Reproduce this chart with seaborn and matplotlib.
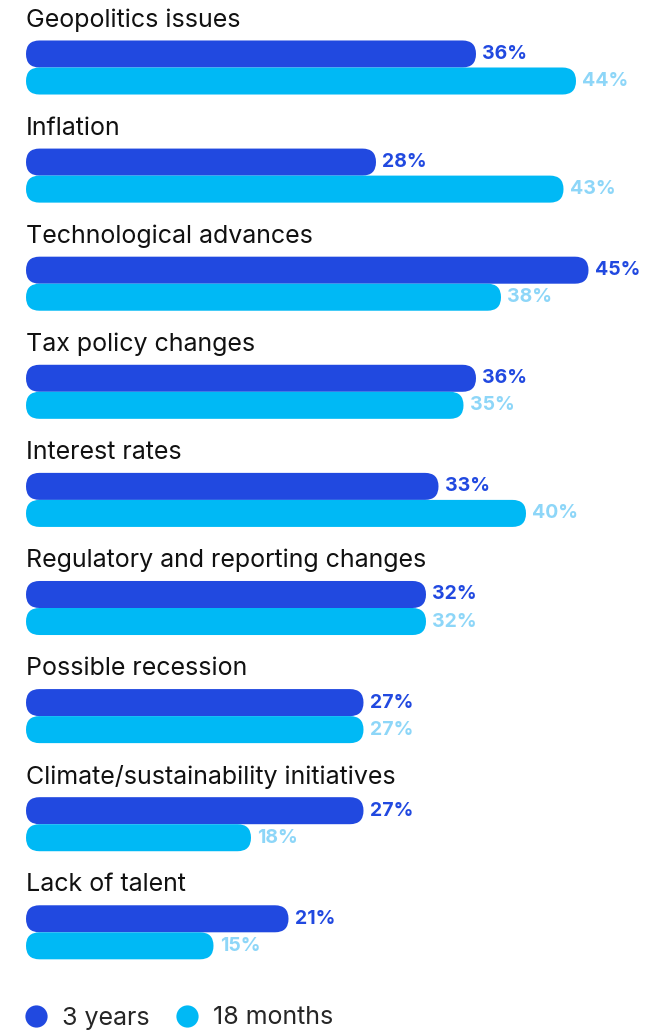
import matplotlib
matplotlib.use("Agg")
import matplotlib.pyplot as plt
from matplotlib.patches import FancyBboxPatch
from matplotlib.lines import Line2D
import seaborn as sns
import pandas as pd

categories = [
    "Geopolitics issues",
    "Inflation",
    "Technological advances",
    "Tax policy changes",
    "Interest rates",
    "Regulatory and reporting changes",
    "Possible recession",
    "Climate/sustainability initiatives",
    "Lack of talent",
]
three_years = [36, 28, 45, 36, 33, 32, 27, 27, 21]
eighteen_months = [44, 43, 38, 35, 40, 32, 27, 18, 15]
series_names = ["3 years", "18 months"]

DARK = "#2149E0"
LIGHT = "#00B9F5"
LIGHT_TXT = "#8DD6F8"

df = pd.DataFrame({
    "category": categories * 2,
    "value": three_years + eighteen_months,
    "period": [series_names[0]] * len(categories) + [series_names[1]] * len(categories),
})

sns.set_theme(style="white")
plt.rcParams["font.family"] = ["Inter", "DejaVu Sans"]

W, H = 658, 1031
fig = plt.figure(figsize=(W / 100, H / 100), dpi=100)
ax = fig.add_axes([0, 0, 1, 1])

sns.barplot(data=df, x="value", y="category", hue="period", orient="h",
            order=categories, hue_order=series_names,
            palette=[DARK, LIGHT], width=0.5, legend=False, ax=ax,
            saturation=1, errorbar=None)

# pixel geometry
x0_px, px_per_x = 26, 12.5
c0_px, px_per_y = 67.5, 108.1
ax.set_xlim(-x0_px / px_per_x, (W - x0_px) / px_per_x)
ax.set_ylim((H - c0_px) / px_per_y, -c0_px / px_per_y)
ax.axis("off")

xu = 1 / px_per_x
yu = 1 / px_per_y
aspect = yu / xu

dark_rgba = matplotlib.colors.to_rgba(DARK)
patches = list(ax.patches)
for p in patches:
    x, y = p.get_x(), p.get_y()
    w, h = p.get_width(), p.get_height()
    fc = p.get_facecolor()
    p.remove()
    r = (h / 2) / aspect  # radius in x units
    fb = FancyBboxPatch((x, y), w, h,
                        boxstyle=f"round,pad=0,rounding_size={r}",
                        mutation_aspect=aspect, facecolor=fc, edgecolor="none")
    ax.add_patch(fb)
    is_dark = abs(fc[0] - dark_rgba[0]) < 0.03
    ax.annotate(f"{w:.0f}%", (x + w, y + h / 2), xytext=(4.5, 0),
                textcoords="offset points", va="center", ha="left",
                fontsize=14, fontweight="bold",
                color=DARK if is_dark else LIGHT_TXT)

for i, cat in enumerate(categories):
    ax.text(0, i - 0.44, cat, va="center", ha="left", fontsize=18,
            color="#111111")

handles = [Line2D([], [], marker="o", linestyle="none", markersize=16,
                  markerfacecolor=c, markeredgecolor="none") for c in (DARK, LIGHT)]
fig.legend(handles, series_names, loc="center left",
           bbox_to_anchor=(25 / W, 1 - 1018 / H), ncol=2, frameon=False,
           fontsize=18, handletextpad=0.6, columnspacing=1.05,
           borderaxespad=0, borderpad=0, handlelength=0.88)

fig.savefig("out.png", dpi=100)
